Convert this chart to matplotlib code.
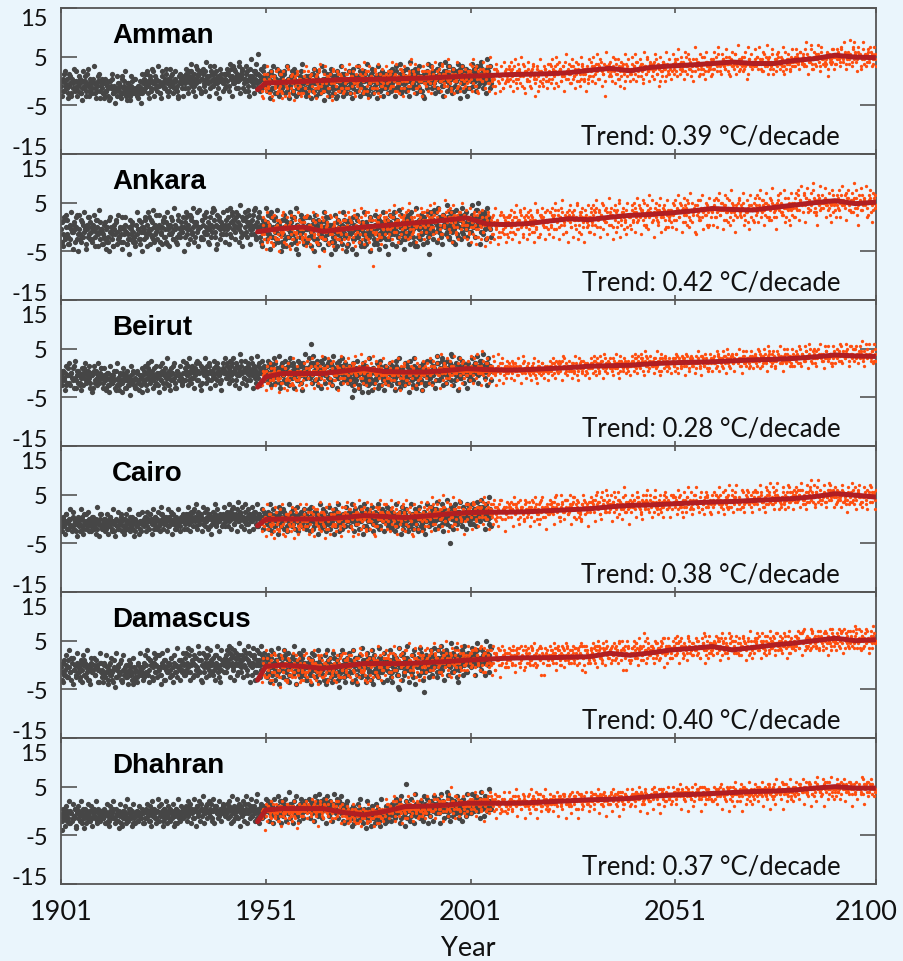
import numpy as np
import matplotlib.pyplot as plt
import matplotlib.transforms as mtransforms

# ---------------------------------------------------------------------------
# Data
# ---------------------------------------------------------------------------
cities = ["Amman", "Ankara", "Beirut", "Cairo", "Damascus", "Dhahran"]
trend_per_decade = [0.39, 0.42, 0.28, 0.38, 0.40, 0.37]

x_ticks = [1901, 1951, 2001, 2051, 2100]
y_ticks = [-15, -5, 5, 15]

# Smoothed model series (degC anomaly) at these years
smooth_years = [1949, 1951, 1955, 1960, 1965, 1970, 1975, 1980, 1985, 1990,
                1995, 2000, 2005, 2010, 2015, 2020, 2025, 2030, 2035, 2040,
                2045, 2050, 2055, 2060, 2065, 2070, 2075, 2080, 2085, 2090,
                2095, 2100]
smooth_amman = [-1.8, -0.4, -0.3, -0.1, 0.1, 0.3, 0.3, 0.4, 0.5, 0.6, 0.8,
                1.0, 1.1, 1.3, 1.4, 1.5, 1.7, 2.2, 2.6, 2.1, 2.8, 3.1, 3.3,
                3.6, 3.9, 3.6, 3.6, 4.2, 4.6, 5.3, 4.9, 4.8]
smooth_ankara = [-1.0, -0.7, -0.3, 0.0, -0.9, -0.4, 0.0, 0.3, 0.7, 1.0, 1.4,
                 1.9, 0.6, 0.5, 0.7, 1.2, 1.7, 1.5, 2.0, 2.4, 2.6, 2.9, 3.3,
                 3.8, 3.6, 3.5, 4.0, 4.5, 5.0, 5.4, 4.8, 5.1]
smooth_beirut = [-2.9, -0.8, -0.1, -0.1, -0.1, 0.4, 0.9, 0.3, 0.2, 0.2, 0.5,
                 0.9, 0.7, 0.6, 0.7, 0.9, 1.1, 1.4, 1.5, 1.6, 1.9, 2.1, 2.2,
                 2.3, 2.5, 2.7, 2.8, 3.0, 3.3, 3.7, 3.5, 3.4]
smooth_cairo = [-1.4, -0.1, 0.0, 0.0, 0.0, 0.3, 0.7, 0.5, 0.3, 0.6, 1.0,
                1.3, 1.4, 1.4, 1.5, 1.7, 1.9, 2.1, 2.5, 2.8, 2.9, 3.1, 3.3,
                3.5, 3.6, 3.8, 4.0, 4.2, 4.6, 5.2, 4.9, 4.5]
smooth_damascus = [-3.1, -0.3, 0.0, -0.3, -0.7, -0.2, 0.3, 0.3, 0.3, 0.5,
                   0.7, 1.0, 1.2, 1.4, 1.5, 1.5, 1.6, 1.7, 2.4, 2.0, 2.5, 3.1,
                   3.4, 3.8, 3.1, 3.6, 4.1, 4.5, 5.0, 5.5, 5.0, 5.2]
smooth_dhahran = [-2.2, 0.2, 0.5, 0.5, 0.5, -0.3, -0.8, -0.1, 0.9, 1.0, 1.2,
                  1.6, 1.6, 1.6, 1.7, 1.9, 2.1, 2.3, 2.4, 2.6, 3.0, 3.3, 3.4,
                  3.6, 3.8, 4.0, 4.1, 4.3, 4.7, 5.0, 4.7, 4.7]

# Anomalies per decade, two interleaved sets of samples per decade.
# Each character is one value in base 36: value = digit / 2 - 8
# ('g' = 0.0, 'k' = 2.0, 'c' = -2.0, 'q' = 5.0, '8' = -4.0 ...)
obs_starts = [1901, 1911, 1921, 1931, 1941, 1951, 1961, 1971, 1981, 1991, 2001]
obs_spans = [10, 10, 10, 10, 10, 10, 10, 10, 10, 10, 5]
model_starts = [1950, 1960, 1970, 1980, 1990, 2000, 2010, 2020, 2030, 2040,
                2050, 2060, 2070, 2080, 2090]
model_spans = [10] * 15

obs_amman = [
    ("egcjfdhbeiafgdkecfhbdgeiaflcegdhfb9egjcf", "ahcked9jfbhdlcgaeifb8kdgcjeahfbmdfcig9eh"),
    ("dbfacedg9ehbcdafcebidgcadfb8ecdhbdaecgdb", "b9hcfa8gdjbe7cidfa9hbekc8fdaigbchd9eb7jc"),
    ("fhdgjeficgkfdhegbfiegdlfhcegjfdhgeaifgdh", "cjekb9hdlfaigcmeb9kfdhjcafliebgkdc9jhfai"),
    ("hfjgdihkegjhfligchjekhgfimgehjfkhdigjhfg", "dlhbkfniceamgjdkbhlfcoigadkjemhbfi9lgcjd"),
    ("hjgkeiliflhgjdmhikfhjgchlgiekhjfrgihdkhi", "eljcnhamfkdigobjldhcmkeaiphfbkndjgclhemf"),
    ("gefhcjgdihfbgkehdgjfchgeigbhfjdgeckhfgdi", "cjf9kdmgbhleajciekbgmd9hfkcljaegbidnfcha"),
    ("fhdgefjcgihdbfgehkdfgcjfhegdiaghfejcgfdh", "bie9jclfahkdbgmc8hejcafldbig9kdhcmeajfbg"),
    ("ghefjdhgcigfkehdgjbhgfidkgehfcjgihdegfjh", "dkb9lfihcmeajgbkdhncafjlbgdi9mhcekafjdgb"),
    ("hgjfidhkgehjcgihflgdhigkfehjgdihcgjhfkgh", "ekcljamgdhnbfkdiclgaojfdhlbkemcgia9jhdnf"),
    ("hjgkfihdljgihekhjgmfhidkjhgcilhfjhkgdihj", "fmdkiblhcnjeagokcjmdhbliegknd9jmfcilahkd"),
    ("ijhlgkiejmhikfjhlgid", "gnekjcmhfoldjibpkgmf"),
]
obs_ankara = [
    ("fidkbgjc9hfeiagldfbjcheg7fkdiebhfcjg8eif", "a8jcld9gbme7hfkb6ldaicmf9hckbgal8ejdnbf9"),
    ("edhbfacjegd8fiebcgdkafhe9dgbfiecahdfjbe6", "9ci7ga6keb8hdj9lcfa7gdke9b5jdhac8mfb9ige"),
    ("gfjchekdfibgdlfhaegjcfi9hdgkebfhgcjdfieg", "bkd8mf9jcnaheb7lgd9ikcamf8hdjbofa9lcgek6"),
    ("gikdhfljegichmfgbjhekgdifhcmgjeh9gkfihdg", "cmf9lbkdoahie8ngcjbldmfa9kheonc7lgjbdmfa"),
    ("hjfkgdiljhemgifhckjgeihlfdjgnhcigkfhejhg", "dnh9ocmfjbkglape8jdmkcni9hfldobgkmca8jeo"),
    ("gidhfkcgjebhgidfa8gjchfeikdgb7hfgjcei9gf", "bld7mcf9kenahg6jdlb8ifcm9gdkaoh5ecljbf9k"),
    ("fhcgedjbfgh9dfiecgbkdfhaegc7fidgbehfjdg8", "akc8hd6lfbj9egc7mbid9kf5hcale8jgbd9mfc6i"),
    ("fgdiebhfcjdgafhe8gicfdkegbhf9djgeichfbg5", "9je7kbg5lcfa8idmb9hec6jfd9lagk7bhcmd8fje"),
    ("gihfkdgjechgldifbhgjekfhcgi8hfjdgkeihgcf", "bld9mf8jcnageb7kidlc9mhfa8ogcjbld9kfeam5"),
    ("hkgjeimhfkgdjlhgiekchjfmgihdkgjeilhfgjhe", "dmfbniaoekc9lhjdpgbmkeaf9nhcjlbodkgmci9j"),
    ("ilhkgjnikhemjilgkhjf", "epgkcnhq9ljdmfbokihc"),
]
obs_beirut = [
    ("fdhegbficfgdjeafhgcefbigdfhecgfajdhefcgi", "bhd9jcfkbgeialdhcfb9igekchdjaf8hcgbkdfie"),
    ("ecfdaegbdfcedhbe9fdcgeafdbecfdhbeagdcfe8", "aid9gb8jecfha9kdbgc8ifdaheb7jcgdahc9fbid"),
    ("fhdgeifcghdfbjegfdhcfiegbhfdgjeafhgdfecg", "cjb9khdleaifcgb8jdkhafcmeb9igdkcahfjebld"),
    ("gihfjdgeihgfkdhgjcgifhegjhdgfiegkhfgdhig", "dkfbmhcjeaigldkb9ihfmcjdkaghelbjdifc9khm"),
    ("hgjeihfkghidjgfhlgeihgjfdhkgiehfjgihgdjh", "ekgcljdmhbkfiaojchelbdkigmfajhcnekbglidh"),
    ("hfjgdihegkhfigcjhfgihdkgehjgfidhgkfjhgei", "fldkbjhmcgienaikfdlchjbmgekaihdlfjc9kgoe"),
    ("ihgjsfkhdigjhelhgifjgkhdjigfhkegihjfhgid", "gmekcnhjdlbifakhmcgjeldkbnhfiaeljcmgdkhf"),
    ("gfhd6gecifgbhgdjfegh8fcgidhegfbjgfdhgeic", "cjebk9hdlfaig8kcfjdbmeh9icgdkaflbhe9jcig"),
    ("ghfidgejhfgcihdgfkegihfdgjheigfdhgicgfhe", "dkbjf9lchmaeigbkdjc8lfhbmeaicgjd9kfbhlcg"),
    ("hgjfihdkhgielgjhfihgkdjhgifhjegikhgjfhie", "elcjgankdhfmbkiclegjonbhdkf9mielgcjhakdf"),
    ("ihjgkhifjhligjhikgjh", "fmdjkhncljgoiekbmhjd"),
]
obs_cairo = [
    ("fdgeficfegdhefbgfdeghcfeifdgebfhdegcfeid", "bhdaifcgkdbjcfe9hgbkdaiecfjbgdhcfale9gic"),
    ("edfgcefdhebfegdcfeifdbgefcehdfegbfdeicfe", "cgbeiadhfckb9fdjcehbgadicfkbehc9gdiafbje"),
    ("fgehdgfifegchfgdeigfhegfdhgeifgchfegdfhg", "dhbjfcigakehdcjfbliceghbkdfjaiegcdkbhfic"),
    ("ghfgiehgfjghdgifhgegjfhgidghfgiehgfghdig", "eiclgbjhdkfmcjehiblgdfkcihaejgmdkfbiheld"),
    ("hgihfjghieghkfhighfjgheihgfihjgdhighfhgi", "fjdmhcklegibnfjdlhcmegkbiflcjhemdigfkcjh"),
    ("gfhgeifghdgfigehgfjgdhgfigehgifghegdhfgi", "ejcmgbkdhifaljdgkcihbfmejdkgchlbeijfdkgc"),
    ("gehfgifdgjhfgegihdfgheigfgjdhgfiegfhgdgh", "dkblgcjfeiahmcgkdjbfhlciegakdjmbhfcigdlf"),
    ("hgigfhjgeihgfkghdihgfjhgeigfhigdhjgfighe", "fjdmhbkeigclfjamhdkcifglbejhdmcigkfbjhld"),
    ("gfhgdigehgfjgeghifgdhgeifhgcgihfegjgfhgd", "ekcjgbmdifhalcjekgbhdmfcikejblgdhcjafmgi"),
    ("hjgihfkhgighejhgiehj6hgkifhgjhidhgihjgfh", "fleikcnhdjgmbkhfoijdlgckmhejinfdlgjcmkhe"),
    ("ijhikgjhliijhkgjiheh", "gmekjdnhfolikcmjgpkd"),
]
obs_damascus = [
    ("fdhcegbifdajegchfdbhegicfdagfhdejcfg9ehd", "a9ickfbmdjh8egbldfai9kchbmea8jdgcife9lhb"),
    ("ecgbdfaehcd9fbegcdiaecfbdgehca8fdebgcfed", "9hbkd8gcjaei7lbfdha9kecgb8icfdjab9hdlcfa"),
    ("fhcgdjeigbfhdgkefchgaifdhgejcfhdgbfiegdh", "bkdmc9ighaljdbfkc8lfiaemdhbjc9kgdnfaielc"),
    ("gjehfkdgihcgjfeliggdhjfkegihcgkhfdjgeihg", "cldngamhbkjecoida9lfkbnhcmgdjeakofb9mhdj"),
    ("hkfigljhemghjdkhfigjlcihgkfhjdgihlgekhjg", "dmhobnkfajlcgpidkbmfjeol9hcnkadmgiboejlc"),
    ("gidhfjcgheigdkgfhbjgeichfgkdgehfigcjhdgf", "bkd9mflhaicn8jgebmkdal9hfjcoi8gdlbkemcha"),
    ("fhdgcifegbhfdjgecgfhaidfgejcfhdgbegfidfh", "ajc8lekbhdm9igcfak8mdhjb9lfcgia7kdmeb9hj"),
    ("gfigdhejgchfkgdihfgbjehgdigfchjegdhfigeg", "cld9mgaj8hekbncfi9lgdjam8kechbndjg9lfhai"),
    ("gihdfjgehc6gkfhdigjeghfdkhgigcfhejgdhgif", "dmb9kgjc7nfhalcjeoi9hdkbm8gfjcnlda5ikegb"),
    ("hjgkfihdmhgjeihkgljhfihdkgjhefihlgjhdkhi", "emcknhbjfdolgaimkcgjpdlhenb9kfjmcoidhlgk"),
    ("iljhkgmihjeikhjligkh", "fnhlckpjgemikcqljdon"),
]
obs_dhahran = [
    ("e8fdgecfbgfdeh9fdgecfhdebgfecgdfhegcdfeg", "cheaigdkbfcjdhagifckbe9hfdjcgiaedkbhfcge"),
    ("fdegbfecgdfhdefcgebfdgefcdhfegbdfegcefdf", "dhbfjcaiegkdbhcf9jeagdiblcfhdajebgcifdhb"),
    ("fgdhfegcfhegfdgiefgchfgefdhgfegbhfgdefgh", "bgdjfciakehdbglcfjeahdkbigcfdjaehblcifdg"),
    ("ghfgeihgfgdhgifghegfhgjgfhgdghigfgehgfig", "eickfjbhdlgaiekcjhmbfidgkejclbhifdkgcjhe"),
    ("gfhgieghfgdhgihgfegjhgfhgieghfgdhgfigheg", "fjdkhbmcigeldjaihkcfmbjgdlehicknfbgjdhil"),
    ("hgihfjghghegihfkhgighfhjgihfghegihgjhgih", "gkcjeiblfhdmgkbiejlchfodjhbkgmeicjlfdhkg"),
    ("hihgjfhighkhfjhgihkhgjfhihgihjgkhfhighjh", "hldkgjcmfiengkdjlhbmiekgcjnhfldkgmjcbhik"),
    ("fgehdfgefcgfhedgfegdhfegfdgfehcgfegdfhgf", "cgdaibhfcjeldgbhf9kcegaidfbjdhcalfegbicd"),
    ("ghfigehgjfghdihgfrgihgeghfjgigfhgdhjgfgi", "eicjhdlfgkbmhieakdjgclfhbnejigdkhcmfglbh"),
    ("hihgjhfihkgihghjgiehijhgkhighfjihgihjhgi", "ekhcmgjlfbnhkdijomgcljekhfmgdkiclhjenfik"),
    ("ijhikhjgiljhikjhijhk", "fnjgmklhdojiemlgkpih"),
]

model_amman = [
    ("cfhdgjebgiafhdkfcgejbhfgdlagifchegjdfhbg", "a9jcmdhbkf8iegbldjc9kfaemhbgdjc8ifkbheag"),
    ("gidhfkcgjehbgifdlgehcjgfidhgakfhegjcgidh", "bkdmfaighcld9jeknbfhcmgaidjf8lhbekcgjdmb"),
    ("hfjgdkhiegbhjfgmdhigcjhekfgihdlgfbhjgeih", "cldjhnbikfamegcjdlbohkc9mfidgbkjdnhaelfi"),
    ("hjfigdkhegjhcifhlgjdhigeknhfgjdhiecgkhfh", "dmbkgjeoicnfhbldkamgihcjepfkbnhdlgciamkf"),
    ("ikgjfhlieghkdjigmhfjiegkhcjlgihdjfkhigeh", "enckhbmjfoidlgcnjeakhpmfdilbjgoekchmdjli"),
    ("ijgkhmfileckjhigljdhkifmjgihelkjfihdjkgi", "fkdnjcpiemhbljgokdimfcqjhelbnkgicmjdoflh"),
    ("jlhkigmjfkhlijendkjhlgikjmhfjliegkjhlijg", "gmeolcjphdnkfqimbkgojedlniahmckpjfemlgdn"),
    ("kjmhlikfnjklgjmiohkljfmkhiljgnkjhmlgjkhi", "hnfpkdmqjeolgimcrkhnjfpmidoklgeqnjhlcmfp"),
    ("lkmiljnkhmlokjlgmlknjilmkpjlhmkilnjgkmlj", "iogqmfkrnhplejnasmiokgqlfnjpheomkdrniplg"),
    ("lnkmjolilmnkhlmjpklnmikolmjnlgmkonlimkjl", "jqhmrgoklpinfsmjqkgolnhrpjmeqkiolgsnjpmh"),
    ("mnlokpmnjolmnkqmnloimpnkmolnjmqlnkomnlmi", "krjpmitnlqkohsmjrplnkgupmoirlnjqhsokmlpj"),
    ("nplomrnkonpmlqonjnpmolrnmoknpqnlmonjpnmo", "lsnqkuomjrpmltnkqiosmnrjvplomkqsnhupmrlo"),
    ("onpmqnolpknoqmpnlorjonpmqolnpkmsonpnlomp", "mtoqlupnksrmovjqnmtlopkrsnqmujolprnkqtom"),
    ("pqornpsoqnpmrqoptlpqnrpvqmspnqoprlqpnotq", "mtqolspnrmtwpjqovnlsqmprokupqmnsiroptqln"),
    ("qrpsqotqprnqsprqouwrqpsqrmqtprqospuqrnqp", "ntrpmuqowslprnxqmtpsokurqlpwnmrtoqsmpurm"),
]
model_ankara = [
    ("dhbjfaigcfk9egbhdjfcleahfg8idfbkgechjdfb", "9kd7mbhfak8lcgjb6iedmaf9kch7lbgejd9mafic"),
    ("fidkbgh9egjcfald0fhcjebgifdkaghcfejbidgf", "akc8lbhe7mdifa9jcgkb6meha9lfd8ickbgmea7j"),
    ("gjdhbkfigcldhejagkfihdmgbjhf0gjeikdhcgfj", "bld9mcjfan8kegidobh9lcfmak7jegdnbicl9hfk"),
    ("ikfjdlhgkeimgjchkfjlgeinhckjfhgldjkeihmg", "dmgcnfkbpiejalhdokgcmjbqfideknahlcgomjbi"),
    ("jlhkfmjgliekjnhdljgkmijfoikhljegkmjhilkf", "enjcpgkdqimbofjdlhrjcnkemapgidlbmjfqkchn"),
    ("hjekgidlhfjcmhgkeihbjlgfhkdihgjcelhfkgid", "bkdoaigmc9lfjbneh8kcmgajdlbofi9hcmeldjak"),
    ("iklgjemhkifjnlhdkjgimfjlkhejgniclkjhmgij", "clenbhkdpfjamgcoilbkdnhejaqfmcidlokgbjnf"),
    ("jmhlkfnjilgkomjhlekjnigmljhkpjelmkgjnihk", "dmgoclqfjnbkhrdiemalpgkcnjfqbhmdoiaklgpe"),
    ("kmilnhokjmglkpjnimkhlolgkjmniqkhlmkjnglk", "eohpdmrgknclqfjiodsmhkbnpeglrcjmofidqlkh"),
    ("lnjmokilpknmjqlhmnkolrjmlknipmklonjmlgkn", "fpiqemsjlodnrhkgpftmilcoqjhnsemkpfgrnjli"),
    ("nlpmjonkqmnilpormkjnqmopnlmjrnkmonlpmhon", "gqjrfntkmpeosilhqguniledprkjotfnlqhgsokm"),
    ("nopkmrnlqonjpmsonkmqpnloknrmpoqljnmopnkn", "hrksgoulnqfptjmirhvojmepqslkouhnmriftpnj"),
    ("oqnpmsokrpnlqopjnrqompkotnpqmloskpnqonlp", "isltipvnmrhqukoksjwpknfqrumlpvioosjhuqok"),
    ("qsoptnrqmupsqornpqvsomqrpnqtoqsprnoqpqmr", "kunvjrxpqtiswmrnuqymrlhtsxoqrwkprulivtpn"),
    ("qrpsnqtprouqspnrqmsqvopqrntqspqolrsqpnqt", "ktovkrxqptjsvnqmuryoslhtqwnprxkqtvmiusop"),
]
model_beirut = [
    ("dfgehcfgdifehbgfdhegcfgiefdhfgbegdhfegcf", "bhd9jcfkagdibleh8gcjfaid9khbfcmeg9jdbhfa"),
    ("ghfigehgjfhgdhigfhegihgfjhegihdgfhigehgj", "dkfbligcmhajekcfjbnhdigamcekblfdhj9ignec"),
    ("hgihfjhgihkgfhijghehgihjfhgkhigfhjhgihfh", "elgcmhdkjbnfiaheokcglbjmdfhinaclgjekfbmd"),
    ("gfhgeihfgdhgifgehgfjgdhgfhgeigfhgjefgigh", "cjebkgdlfaihmc9jgekbhdlcfjaigmbkdhec9lfj"),
    ("hgihfjghihgkhfhighjgeihgfjhighgihfhkghih", "ekhcmgbljdnfiaogdkjcmhelbfjnigdkamhclejf"),
    ("hihgjhfihkhgihjgfhihkhgjhighfihjhgkhihgj", "flidnhcmkeojgbplhdkmfciejnlgbhodkimcfjel"),
    ("hijhgkihjhfijhgkhiijhgihjkhfihjghikhjhig", "gkieljdkhfmjhcnlgeikhfdjgmiecljhfkgeihjd"),
    ("ijhkigjihkjhilijgkijhjikhgjkihjilhijkgji", "hljfmkeliglkidnmhfjlihekhnjfdmkigljfhkie"),
    ("jkijlhjkigkjlijhkjlkijhmjkjiklhjkijlkjhj", "imkgnlfmjhnljeomigkmjifliokgenljhmkgiljf"),
    ("klkjmikljkmlhkljmkilkjlmkijklmhklkmjlkik", "jnlhomgnkiomkfpnjhlnkjgmjplhfomkinlhjmkg"),
    ("kljmkilmkjlkmljnkilkmjlkilmkjnlkjlmikllk", "kmjhonglkinmjfolkhmnjkgnkplifnmjoklhiomh"),
    ("lmkljnmlkmilnlmkjmlnkmlolkmjlmnkljmlknml", "lnkipohmljpnkgqolinokhlolqmjgpnkplmijpni"),
    ("lmnkmlomjnmlkmnolmkmnjlmonkmlmnlkomlnmjm", "lomjqpinmkqolhrpmjoplimpmrnkhqolqmnjkqoj"),
    ("mnlonmkonmlpnmonlnmokpmnonmlonmpnlmonkmn", "mpnkrqjonlrpmisqnkpqmjnqnsolirpmrnokjrpk"),
    ("nomnpnlonmponlnomnqnmonpmonlpnomnonmpnlo", "nqolsrkpomsqnjrroqlqrnkorptmjsqnsolpksql"),
]
model_cairo = [
    ("egdhfcgiedfhbgjefcgdhegfbigdfhecgjfdgehf", "bkd9mcgiahe8ljcfbkdmag9ichejbld8kgfacmdh"),
    ("gifhdjgehcigkfgdhfjgeihcgfhidkgegjhfdghi", "ckdmfahjbl9gekicnbfjd8lhcmagkeidbnfjc9le"),
    ("hjgifkhdgihljgeihkfhgjcihgkfjhdihgljgfih", "dlfnbhkc9miejaogckdlhbnfjcmiea9ldkgocjfm"),
    ("hgjfihkegjhdigjhflhigekhjgfihcjhgkihfjgh", "emcjhbolfdkaniegcmjbokdhlfa9mjeickgnbhld"),
    ("ikhjgliejkhmijgkhlifjikgmjhiekjilhgjkifj", "fndlibpmhejcokgdqlfinbjmhdpkegclonfikajm"),
    ("jkilhjmikgjlhkjinjhkgljikhmjgilkjhjklgij", "gmkljcnmifldolhepmgjnckmieolfhdmoogjkbln"),
    ("jlkhkmjilknjhkljgmkjilkhjnkljikmgjlkhjli", "hmlnkdpmmjgeolifonhkndlojfpmgienophklcmk"),
    ("kmjlinkljmkhlmkjolkijmlknhkmljkigmlknjlk", "iomnlepqmkhfqnjgooilqemppkgonhjfmqoilmdn"),
    ("lnkmjolmkniplmlkjnmoklmnjlkmoinlmkljnmkl", "jpnolfqrnligroojsqjmqfnrplhronkgptqjmneo"),
    ("mnlokmpnlmjonmlqnkmolnmjpnlmokmnlqmnkolm", "jqlomhrpnkigqnkosmjqhnpslkimqjlhorpkmnhq"),
    ("mpnlonkmqnmolnjpmnolmkqnomlnpnkmonlpmnjm", "kqmpnisplljhrolptnkrioqtmljnrkmiprqlnoiq"),
    ("nomqnpmolnrnompklonqnmpoknpnolrmonpnmoln", "lrnqojtqmmkisplqunlsjprunmkosljnqsrmoqjr"),
    ("opnrmpoqnlopmsoqnopmrnoqpkomprnqoplnrpoq", "msorpkurnnljtqmrvomtkqsvonlptmkorutnprks"),
    ("pqrnoqspmqprnpqtorqpmrqnpsqoprqnpqosprqp", "ntpsqlvsoomkurnswpnulrtwpomqunlpsvuoqslt"),
    ("qpnrpoqsnpqormpqnsqpoqrpmqnqprosqpnqrpqo", "msorplurnomjtqnrvomtkqsupnlptmkprutnqrks"),
]
model_damascus = [
    ("dhfbgjecfiagdkfchebgjdfhaeigcfdhbkfeg9fd", "9jcmbfhakd8lgcieb7kfdmah9jcgebldf8icjhae"),
    ("fhcgdjeafigbhfdkcgeibfhdgajfcehgdifbgkef", "akdlbfi9hcmeag8jdkbfhcl9iebgdmaf9kchjbel"),
    ("gidjfhbkgeihcgjfldhgeakighcfjgdhibgkfhej", "bleickfamdhj9gbnekdfcl9hjamgbikdcofhaelj"),
    ("hjfkgidhlegjhcikfhgjdmhgiekhfjbgihkdjhgf", "cmfjdlhbokeicnagljdmhfbpickegnjdlaohfkbm"),
    ("ijgkhliefkjhmgidjkhfligcjkhigmfjhleikgjh", "dngkemibpljfdohcmkfqjeglbnidkhpmcfojlegk"),
    ("ijkhlgmjfikhjnigkldjhkimgjhlekjigmhjklfi", "eoilfmjcnmkgeoidnlgmkfhmcojelinmbgokmfhl"),
    ("jlikhmjgkljnhikmjflkjhiomjkhlgjkinlhjkmj", "fnjmgokdmnlhfojeomhnlgingpkfmjnocjkcnlgi"),
    ("kjmilknhjmkgljnmikolhjkmlinkjmhlkojgmlki", "gokmhplenomigokfpnihmhjohnlgnkopejodomhj"),
    ("kmljnhkolmjkipmlnkjlmhoklnjmkqliknmjlkoh", "hnlpiomfqonjhnlgqojmnikpiomhplmqekoeqnik"),
    ("lnkompjlmnikolqmjnlkomnhlpkmnjolmrknlomj", "inlqjpngronkitmhrpkmojlqjpnimqprflohrojl"),
    ("nmokplnqmonjpnmlronmkpnomqlnjonpmskonlpm", "jqorksphqrolkonisqlmpkmrkqojnrpthmqjsplm"),
    ("nponlqmonkpnrolmnpsmnoqlnpkmonrnpmoqnloj", "kqpslrqirtqmlpojtrmqqlnslrpkosqpinrkuqmn"),
    ("oqnprmoqpnlsqopmrnqopktpoqnmrpoqnpslqonp", "lrqtmsojtqnmkspluqnsrmptmsqlotspjoulrnno"),
    ("qsoprnqtpqmrsoqpnuqrpoqsmrqpotqnrsqpovqr", "msrunttkuvqonrrmvtoqsnqunusmrutpkpvmtsop"),
    ("qrpsoqtprnqsuqproqnsvqprqmsqotpqrnqspwqp", "mtsvnuulvrtponusqupwtnqvnusnrvuqlqunstpq"),
]
model_dhahran = [
    ("gfh8egihfdgjhegfhcgihegfjgdhgfiegh9gfhge", "dhfjcigekbhfdjgcieakfhdgjbfiecgkdhfbjgei"),
    ("hgihfjghehigkfhghjgehighfjghdihgkgfhigeh", "ejgkdihflcjgeiagkhfdjilgehckfjgdiekhgbjh"),
    ("fegdhfcgefdhgebfgfdhegfcegfdhfegbfhegdfg", "cgeibfdhjcfbgeicaehdfgbjecfhdagfiebgdhcf"),
    ("hgjhfihgkhegihjgfhigdhjhgihfkhgjheighfhg", "elgjdihfmckhgeljbihfkdmgjeicnhfkdjglehid"),
    ("ijhkhgjilhijfkhjigkjihlhgjikhmijhgkjihji", "fmhkejigndljhfmkcjigleniqkfjdmhlegkjmfie"),
    ("jkijhlijkgjkilhjkjiglkjhmjiklhjkijgkljij", "gnilfkjhoemkigolcljhmfojlkgndmjmfhlkogif"),
    ("jkljhkjmikjljhkjlikjmhjklijkhjlkjikmjlij", "hoilgmkjpemljhnmdkjinfpkmlhodnkngimlphkg"),
    ("kljkmjlkilkmjlknkjlkmjilkjmlkhlkmjklkjlk", "hnjlgmkjoemlihnmdkjinfolmkhodnknhimlokjg"),
    ("lmkljnlmkmljlnkmlkjmlnlkmljnkmlmkjlnmlkl", "ioknhnlkpfnmjiomeljjogpmnlioeolohjnmpkli"),
    ("mnlmkomnlmnjmlonmlkmnmlomnlmjnmolnmkmnlm", "jplnionlqgonkjpnfmkkphqnomjpfpmpikonqlmj"),
    ("mnonlmpnmonmlonmpnmlonkmnpomnlmonmpnlmon", "kqmojponrhpolkqogomlqirooplqgqnqjlopmnlk"),
    ("nonpmonqnopmnonpoqnmonpoknopnmqonpnomnpo", "kqlojpnmrhomlkqpglnkqisnnmkrgpqpjlosknjm"),
    ("opnoqnopmpoqnpornopqmonopqnoprnopnqopmoq", "lromkqonsipnmlrqhomlrjtoonlshrorkmptlokn"),
    ("pqopnrqpoqpsoprqpnqpoqrpqopnqrpoqpspqoqp", "mspnlrpotjqonmsrinpmskuppomtisqslnqumplo"),
    ("qpropqnqrpoqpsqpnqroqpqrpoqnrpqosqpqrpqo", "mtorlsqptkrponsripqnslqqpnutjrsmortnqmpo"),
]

obs_series = [obs_amman, obs_ankara, obs_beirut, obs_cairo, obs_damascus,
              obs_dhahran]
model_series = [model_amman, model_ankara, model_beirut, model_cairo,
                model_damascus, model_dhahran]
smooth_series = [smooth_amman, smooth_ankara, smooth_beirut, smooth_cairo,
                 smooth_damascus, smooth_dhahran]


def unpack(chunks, starts, spans):
    """Turn per-decade character strings into (year, anomaly) arrays."""
    xs, ys = [], []
    for parts, start, span in zip(chunks, starts, spans):
        for k, text in enumerate(parts):
            n = len(text)
            step = span / n
            xs.append(start + (np.arange(n) + 0.25 + 0.5 * k) * step)
            ys.append(np.array([int(c, 36) for c in text]) / 2.0 - 8.0)
    return np.concatenate(xs), np.concatenate(ys)


# ---------------------------------------------------------------------------
# Figure
# ---------------------------------------------------------------------------
BG = "#EAF5FC"
FRAME = "#555555"
OBS_C = "#464646"
MODEL_C = "#FF4F10"
LINE_C = "#B01E22"
TXT = "#111111"

plt.rcParams["font.family"] = ["Lato", "DejaVu Sans"]

fig = plt.figure(figsize=(9.04, 9.62), dpi=100, facecolor=BG)
W, H = 904.0, 962.0
left, right = 61 / W, 876 / W
top_px, bottom_px = 9.0, 885.0
panel_h = (bottom_px - top_px) / len(cities)

for i, city in enumerate(cities):
    y0 = 1 - (top_px + (i + 1) * panel_h) / H
    ax = fig.add_axes([left, y0, right - left, panel_h / H])
    ax.set_facecolor(BG)

    ox, oy = unpack(obs_series[i], obs_starts, obs_spans)
    mx, my = unpack(model_series[i], model_starts, model_spans)
    ax.plot(ox, oy, "o", ms=3.8, color=OBS_C, mec="none", zorder=2)
    ax.plot(mx, my, "o", ms=2.4, color=MODEL_C, mec="none", zorder=3)
    ax.plot(smooth_years, smooth_series[i], "-", lw=3.6, color=LINE_C,
            solid_capstyle="round", solid_joinstyle="round", zorder=4)

    ax.set_xlim(1901, 2100)
    ax.set_ylim(-15, 15)

    ax.set_yticks(y_ticks)
    ax.set_yticklabels([str(v) for v in y_ticks])
    ax.set_xticks(x_ticks)
    ax.tick_params(axis="y", direction="in", length=11.5, width=1.2,
                   color=FRAME, left=True, right=True, labelsize=17,
                   pad=9.5, labelcolor=TXT)
    ax.tick_params(axis="x", direction="in", length=3.5, width=1.2,
                   color=FRAME, top=True, bottom=True, labelsize=19.5,
                   pad=11, labelcolor=TXT)
    labs = ax.get_yticklabels()
    labs[0].set_verticalalignment("baseline")
    labs[-1].set_verticalalignment("top")
    if i > 0:
        # keep the top label clear of the panel above
        labs[-1].set_transform(labs[-1].get_transform() +
                               mtransforms.ScaledTranslation(
                                   0, -0.05, fig.dpi_scale_trans))
    if i < len(cities) - 1:
        ax.tick_params(axis="x", labelbottom=False)
    else:
        ax.set_xlabel("Year", fontsize=19.5, color=TXT, labelpad=8)
        last = ax.get_xticklabels()[-1]
        last.set_transform(last.get_transform() + mtransforms.ScaledTranslation(
            -0.10, 0, fig.dpi_scale_trans))

    for sp in ax.spines.values():
        sp.set_color(FRAME)
        sp.set_linewidth(1.3)

    ax.text(0.0626, 0.815, city, transform=ax.transAxes,
            fontsize=20, fontweight="bold", family="Liberation Sans",
            ha="left", va="center", color="#000000")
    ax.text(0.956, 0.125, f"Trend: {trend_per_decade[i]:.2f} \u00b0C/decade",
            transform=ax.transAxes, fontsize=18.5, ha="right", va="center",
            color=TXT)

fig.savefig("out.png", dpi=100, facecolor=BG)
